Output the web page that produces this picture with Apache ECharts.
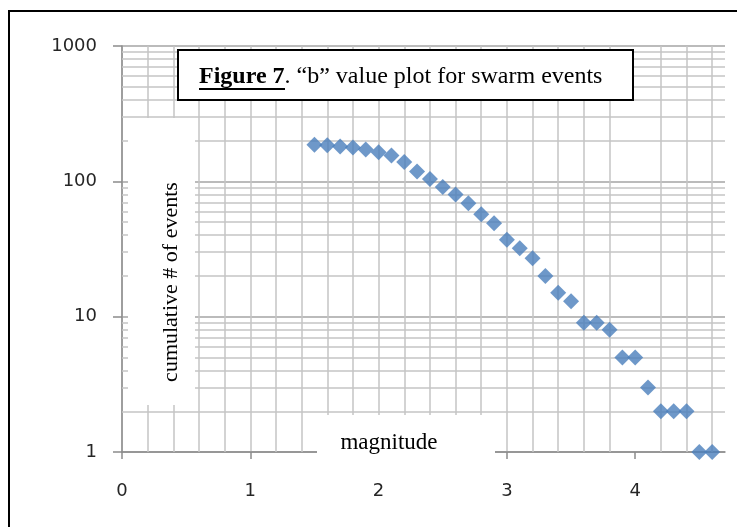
<!DOCTYPE html>
<html>
<head>
<meta charset="utf-8">
<script src="https://cdn.jsdelivr.net/npm/echarts@6/dist/echarts.min.js"></script>
<style>
html,body{margin:0;padding:0;background:#fff;}
#chart{width:737px;height:527px;}
</style>
</head>
<body>
<div id="chart"></div>
<script>
// magnitude values (x)
const magnitudes = [1.5,1.6,1.7,1.8,1.9,2.0,2.1,2.2,2.3,2.4,2.5,2.6,2.7,2.8,2.9,3.0,3.1,3.2,3.3,3.4,3.5,3.6,3.7,3.8,3.9,4.0,4.1,4.2,4.3,4.4,4.5,4.6];
// cumulative number of events (y)
const cumulativeCounts = [186,185,181,178,172,164,155,139,118,104,91,80,69,57,49,37,32,27,20,15,13,9,9,8,5,5,3,2,2,2,1,1];
// tick labels
const xTickLabels = [0,1,2,3,4];
const yTickLabels = [1,10,100,1000];
// minor gridline values
const xMinorGrid = [0.2,0.4,0.6,0.8,1.2,1.4,1.6,1.8,2.2,2.4,2.6,2.8,3.2,3.4,3.6,3.8,4.2,4.4,4.6];
const yMinorGrid = [2,3,4,5,6,7,8,9,20,30,40,50,60,70,80,90,200,300,400,500,600,700,800,900];

const titleBold = 'Figure 7';
const titleRest = '. \u201cb\u201d value plot for swarm events';
const yTitle = 'cumulative # of events';
const xTitle = 'magnitude';

const points = magnitudes.map((m, i) => [m, cumulativeCounts[i]]);

const chart = echarts.init(document.getElementById('chart'), null, {renderer: 'canvas'});
const labelFont = {fontFamily: 'DejaVu Sans', fontSize: 18, color: '#262626'};
const serif = 'Liberation Serif';
const gridGray = '#c4c4c4';

chart.setOption({
  animation: false,
  backgroundColor: '#ffffff',
  grid: {left: 122, right: 12, top: 46, bottom: 75, containLabel: false},
  xAxis: {
    type: 'value', min: 0, max: 4.7, interval: 1,
    axisLine: {show: true, lineStyle: {color: '#8c8c8c', width: 1.5}},
    axisTick: {show: true, customValues: xTickLabels, length: 7, lineStyle: {color: '#8c8c8c', width: 1.5}},
    axisLabel: Object.assign({customValues: xTickLabels, margin: 30, formatter: v => String(v)}, labelFont),
    splitLine: {show: true, showMaxLine: false, lineStyle: {color: gridGray, width: 1.5}}
  },
  yAxis: {
    type: 'log', logBase: 10, min: 1, max: 1000,
    axisLine: {show: true, lineStyle: {color: '#8c8c8c', width: 1.5}},
    axisTick: {show: true, length: 9, lineStyle: {color: '#8c8c8c', width: 1.5}},
    axisLabel: Object.assign({margin: 25, formatter: v => String(v)}, labelFont),
    splitLine: {show: true, lineStyle: {color: '#a4a4a4', width: 1.5}}
  },
  series: [
    {
      type: 'scatter', z: 1, silent: true, symbolSize: 0,
      data: points,
      markLine: {
        silent: true, symbol: ['none','none'], label: {show: false},
        lineStyle: {color: gridGray, width: 1.5, type: 'solid'},
        data: yMinorGrid.map(v => ({yAxis: v})).concat(xMinorGrid.map(v => ({xAxis: v})))
      }
    },
    {
      type: 'scatter', z: 5, symbol: 'diamond', symbolSize: 16,
      itemStyle: {color: '#4a7ebb'},
      data: points
    }
  ],
  graphic: [
    // outer frame
    {type: 'rect', z: 100, shape: {x: 9, y: 11, width: 740, height: 530}, style: {fill: 'none', stroke: '#000', lineWidth: 2}},
    // y title box
    {type: 'rect', z: 50, shape: {x: 128, y: 118, width: 67, height: 287}, style: {fill: '#fff'}},
    {type: 'text', z: 51, x: 171, y: 282, rotation: Math.PI / 2,
      style: {text: yTitle, font: '22px "' + serif + '"', fill: '#000', align: 'center', verticalAlign: 'middle'}},
    // x title box
    {type: 'rect', z: 50, shape: {x: 317, y: 415, width: 178, height: 55}, style: {fill: '#fff'}},
    {type: 'text', z: 51, x: 389, y: 443,
      style: {text: xTitle, font: '23px "' + serif + '"', fill: '#000', align: 'center', verticalAlign: 'middle'}},
    // title box
    {type: 'rect', z: 50, shape: {x: 178, y: 50, width: 455, height: 50}, style: {fill: '#fff', stroke: '#000', lineWidth: 2}},
    {type: 'text', z: 51, x: 199, y: 77,
      style: {
        text: '{b|' + titleBold + '}{r|' + titleRest + '}',
        verticalAlign: 'middle',
        rich: {
          b: {fontFamily: serif, fontSize: 24, fontWeight: 'bold', fill: '#000', color: '#000'},
          r: {fontFamily: serif, fontSize: 24, fill: '#000', color: '#000'}
        }
      }},
    {type: 'line', z: 51, shape: {x1: 199, y1: 89, x2: 285, y2: 89}, style: {stroke: '#000', lineWidth: 2}}
  ]
});
</script>
</body>
</html>
